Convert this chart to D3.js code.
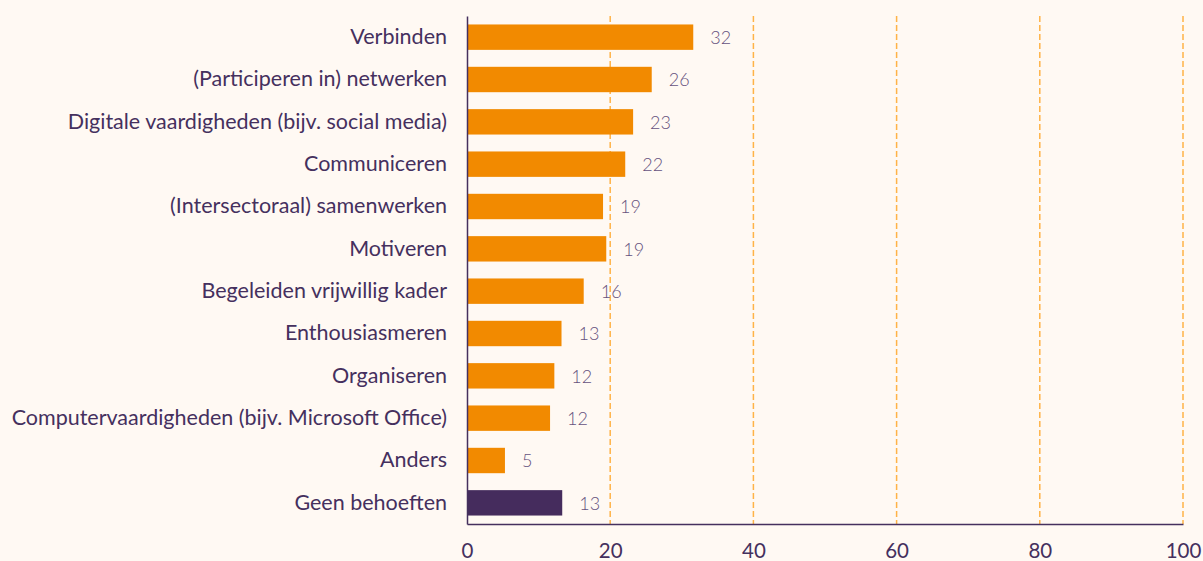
<!DOCTYPE html>
<html>
<head>
<meta charset="utf-8">
<script src="https://cdn.jsdelivr.net/npm/d3@7"></script>
<style>
  html, body { margin: 0; padding: 0; background: #fff9f3; }
  svg { display: block; font-family: Lato, "Open Sans", sans-serif; }
</style>
</head>
<body>
<div id="chart"></div>
<script>
// categorieën van boven naar onder
const categories = [
    "Verbinden",
    "(Participeren in) netwerken",
    "Digitale vaardigheden (bijv. social media)",
    "Communiceren",
    "(Intersectoraal) samenwerken",
    "Motiveren",
    "Begeleiden vrijwillig kader",
    "Enthousiasmeren",
    "Organiseren",
    "Computervaardigheden (bijv. Microsoft Office)",
    "Anders",
    "Geen behoeften"
];
const values = [31.6, 25.8, 23.2, 22.1, 19.0, 19.45, 16.3, 13.2, 12.2, 11.6, 5.3, 13.3];
const valueLabels = [32, 26, 23, 22, 19, 19, 16, 13, 12, 12, 5, 13];
const xTicks = [0, 20, 40, 60, 80, 100];

const width = 1203;
const height = 561;
const margin = { top: 16, right: 20, bottom: 37, left: 467 };

const svg = d3.select("#chart")
    .append("svg")
    .attr("width", width)
    .attr("height", height);

const x = d3.scaleLinear()
    .domain([0, 100])
    .range([margin.left, width - margin.right]);

const y = d3.scaleBand()
    .domain(categories)
    .range([margin.top, height - margin.bottom])
    .paddingInner(0.4)
    .paddingOuter(0.2);

// gestippelde rasterlijnen
svg.append("g")
    .selectAll("line")
    .data(xTicks.filter(d => d > 0))
    .join("line")
    .attr("x1", d => x(d))
    .attr("x2", d => x(d))
    .attr("y1", margin.top)
    .attr("y2", height - margin.bottom)
    .attr("stroke", "#ffb347")
    .attr("stroke-width", 1.5)
    .attr("stroke-dasharray", "6,3");

// balken
svg.append("g")
    .selectAll("rect")
    .data(values)
    .join("rect")
    .attr("x", x(0))
    .attr("y", (d, i) => y(categories[i]))
    .attr("width", d => x(d) - x(0))
    .attr("height", y.bandwidth())
    .attr("fill", (d, i) => categories[i] === "Geen behoeften" ? "#452c5d" : "#f28a00");

// waardes naast de balken
svg.append("g")
    .selectAll("text")
    .data(values)
    .join("text")
    .attr("x", d => x(d) + 17)
    .attr("y", (d, i) => y(categories[i]) + y.bandwidth() / 2)
    .attr("dy", "0.38em")
    .attr("fill", "#66527e")
    .attr("font-size", "18px")
    .attr("font-weight", 300)
    .text((d, i) => valueLabels[i]);

// y-as
svg.append("g")
    .attr("transform", `translate(${x(0)},0)`)
    .call(d3.axisLeft(y).tickSize(0).tickPadding(20))
    .call(g => g.select(".domain").attr("stroke", "#45305e").attr("stroke-width", 1.5))
    .call(g => g.selectAll(".tick text")
        .attr("fill", "#45305e")
        .attr("font-size", "21.5px")
        .attr("font-family", "Lato, sans-serif"));

// x-as
svg.append("g")
    .attr("transform", `translate(0,${height - margin.bottom})`)
    .call(d3.axisBottom(x).tickValues(xTicks).tickSize(0).tickPadding(19))
    .call(g => g.select(".domain").attr("stroke", "#45305e").attr("stroke-width", 1.5))
    .call(g => g.selectAll(".tick text")
        .attr("fill", "#45305e")
        .attr("font-size", "20.5px")
        .attr("font-family", "Lato, sans-serif"));
</script>
</body>
</html>
